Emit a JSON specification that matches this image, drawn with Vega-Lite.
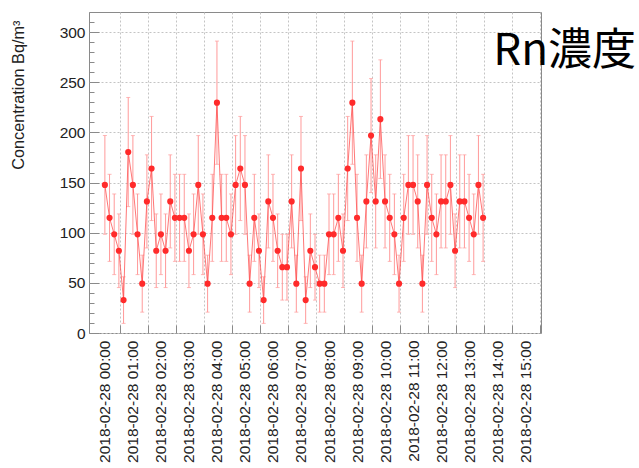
{
  "$schema": "https://vega.github.io/schema/vega-lite/v6.json",
  "width": 452,
  "height": 321,
  "autosize": {"type": "none"},
  "padding": {"left": 89, "top": 12, "right": 98, "bottom": 135},
  "background": "white",
  "title": {
    "text": "Rn濃度",
    "anchor": "end",
    "frame": "group",
    "orient": "top",
    "font": "Noto Sans CJK JP",
    "fontSize": 44,
    "fontWeight": "normal",
    "color": "#000000",
    "baseline": "alphabetic",
    "offset": 0,
    "dx": 95,
    "dy": 97
  },
  "config": {
    "view": {"stroke": "#8a8a8a", "strokeWidth": 1},
    "axis": {
      "labelFont": "Liberation Sans",
      "titleFont": "Liberation Sans",
      "labelColor": "#222222",
      "titleColor": "#222222",
      "tickColor": "#8a8a8a",
      "gridColor": "#c4c4c4",
      "gridDash": [2, 2],
      "gridWidth": 1,
      "domain": false,
      "labelOverlap": false
    },
    "axisX": {
      "title": null, "grid": true, "format": "%Y-%m-%d %H:%M", "labelAngle": -90,
      "labelFontSize": 15.5, "tickSize": -8, "labelPadding": 15, "tickOffset": 15, "labelOffset": -15,
      "labelOverlap": false
    }
  },
  "datasets": {
    "radon": [
      {"t": "2018-02-28T00:00", "c": 147.6, "lo": 98.4, "hi": 196.8},
      {"t": "2018-02-28T00:10", "c": 114.8, "lo": 71.4, "hi": 158.2},
      {"t": "2018-02-28T00:20", "c": 98.4, "lo": 58.2, "hi": 138.6},
      {"t": "2018-02-28T00:30", "c": 82.0, "lo": 45.3, "hi": 118.7},
      {"t": "2018-02-28T00:40", "c": 32.8, "lo": 9.6, "hi": 56.0},
      {"t": "2018-02-28T00:50", "c": 180.4, "lo": 126.0, "hi": 234.8},
      {"t": "2018-02-28T01:00", "c": 147.6, "lo": 98.4, "hi": 196.8},
      {"t": "2018-02-28T01:10", "c": 98.4, "lo": 58.2, "hi": 138.6},
      {"t": "2018-02-28T01:20", "c": 49.2, "lo": 20.8, "hi": 77.6},
      {"t": "2018-02-28T01:30", "c": 131.2, "lo": 84.8, "hi": 177.6},
      {"t": "2018-02-28T01:40", "c": 164.0, "lo": 112.1, "hi": 215.9},
      {"t": "2018-02-28T01:50", "c": 82.0, "lo": 45.3, "hi": 118.7},
      {"t": "2018-02-28T02:00", "c": 98.4, "lo": 58.2, "hi": 138.6},
      {"t": "2018-02-28T02:10", "c": 82.0, "lo": 45.3, "hi": 118.7},
      {"t": "2018-02-28T02:20", "c": 131.2, "lo": 84.8, "hi": 177.6},
      {"t": "2018-02-28T02:30", "c": 114.8, "lo": 71.4, "hi": 158.2},
      {"t": "2018-02-28T02:40", "c": 114.8, "lo": 71.4, "hi": 158.2},
      {"t": "2018-02-28T02:50", "c": 114.8, "lo": 71.4, "hi": 158.2},
      {"t": "2018-02-28T03:00", "c": 82.0, "lo": 45.3, "hi": 118.7},
      {"t": "2018-02-28T03:10", "c": 98.4, "lo": 58.2, "hi": 138.6},
      {"t": "2018-02-28T03:20", "c": 147.6, "lo": 98.4, "hi": 196.8},
      {"t": "2018-02-28T03:30", "c": 98.4, "lo": 58.2, "hi": 138.6},
      {"t": "2018-02-28T03:40", "c": 49.2, "lo": 20.8, "hi": 77.6},
      {"t": "2018-02-28T03:50", "c": 114.8, "lo": 71.4, "hi": 158.2},
      {"t": "2018-02-28T04:00", "c": 229.6, "lo": 168.2, "hi": 291.0},
      {"t": "2018-02-28T04:10", "c": 114.8, "lo": 71.4, "hi": 158.2},
      {"t": "2018-02-28T04:20", "c": 114.8, "lo": 71.4, "hi": 158.2},
      {"t": "2018-02-28T04:30", "c": 98.4, "lo": 58.2, "hi": 138.6},
      {"t": "2018-02-28T04:40", "c": 147.6, "lo": 98.4, "hi": 196.8},
      {"t": "2018-02-28T04:50", "c": 164.0, "lo": 112.1, "hi": 215.9},
      {"t": "2018-02-28T05:00", "c": 147.6, "lo": 98.4, "hi": 196.8},
      {"t": "2018-02-28T05:10", "c": 49.2, "lo": 20.8, "hi": 77.6},
      {"t": "2018-02-28T05:20", "c": 114.8, "lo": 71.4, "hi": 158.2},
      {"t": "2018-02-28T05:30", "c": 82.0, "lo": 45.3, "hi": 118.7},
      {"t": "2018-02-28T05:40", "c": 32.8, "lo": 9.6, "hi": 56.0},
      {"t": "2018-02-28T05:50", "c": 131.2, "lo": 84.8, "hi": 177.6},
      {"t": "2018-02-28T06:00", "c": 114.8, "lo": 71.4, "hi": 158.2},
      {"t": "2018-02-28T06:10", "c": 82.0, "lo": 45.3, "hi": 118.7},
      {"t": "2018-02-28T06:20", "c": 65.6, "lo": 32.8, "hi": 98.4},
      {"t": "2018-02-28T06:30", "c": 65.6, "lo": 32.8, "hi": 98.4},
      {"t": "2018-02-28T06:40", "c": 131.2, "lo": 84.8, "hi": 177.6},
      {"t": "2018-02-28T06:50", "c": 49.2, "lo": 20.8, "hi": 77.6},
      {"t": "2018-02-28T07:00", "c": 164.0, "lo": 112.1, "hi": 215.9},
      {"t": "2018-02-28T07:10", "c": 32.8, "lo": 9.6, "hi": 56.0},
      {"t": "2018-02-28T07:20", "c": 82.0, "lo": 45.3, "hi": 118.7},
      {"t": "2018-02-28T07:30", "c": 65.6, "lo": 32.8, "hi": 98.4},
      {"t": "2018-02-28T07:40", "c": 49.2, "lo": 20.8, "hi": 77.6},
      {"t": "2018-02-28T07:50", "c": 49.2, "lo": 20.8, "hi": 77.6},
      {"t": "2018-02-28T08:00", "c": 98.4, "lo": 58.2, "hi": 138.6},
      {"t": "2018-02-28T08:10", "c": 98.4, "lo": 58.2, "hi": 138.6},
      {"t": "2018-02-28T08:20", "c": 114.8, "lo": 71.4, "hi": 158.2},
      {"t": "2018-02-28T08:30", "c": 82.0, "lo": 45.3, "hi": 118.7},
      {"t": "2018-02-28T08:40", "c": 164.0, "lo": 112.1, "hi": 215.9},
      {"t": "2018-02-28T08:50", "c": 229.6, "lo": 168.2, "hi": 291.0},
      {"t": "2018-02-28T09:00", "c": 114.8, "lo": 71.4, "hi": 158.2},
      {"t": "2018-02-28T09:10", "c": 49.2, "lo": 20.8, "hi": 77.6},
      {"t": "2018-02-28T09:20", "c": 131.2, "lo": 84.8, "hi": 177.6},
      {"t": "2018-02-28T09:30", "c": 196.8, "lo": 140.0, "hi": 253.6},
      {"t": "2018-02-28T09:40", "c": 131.2, "lo": 84.8, "hi": 177.6},
      {"t": "2018-02-28T09:50", "c": 213.2, "lo": 154.1, "hi": 272.3},
      {"t": "2018-02-28T10:00", "c": 131.2, "lo": 84.8, "hi": 177.6},
      {"t": "2018-02-28T10:10", "c": 114.8, "lo": 71.4, "hi": 158.2},
      {"t": "2018-02-28T10:20", "c": 98.4, "lo": 58.2, "hi": 138.6},
      {"t": "2018-02-28T10:30", "c": 49.2, "lo": 20.8, "hi": 77.6},
      {"t": "2018-02-28T10:40", "c": 114.8, "lo": 71.4, "hi": 158.2},
      {"t": "2018-02-28T10:50", "c": 147.6, "lo": 98.4, "hi": 196.8},
      {"t": "2018-02-28T11:00", "c": 147.6, "lo": 98.4, "hi": 196.8},
      {"t": "2018-02-28T11:10", "c": 131.2, "lo": 84.8, "hi": 177.6},
      {"t": "2018-02-28T11:20", "c": 49.2, "lo": 20.8, "hi": 77.6},
      {"t": "2018-02-28T11:30", "c": 147.6, "lo": 98.4, "hi": 196.8},
      {"t": "2018-02-28T11:40", "c": 114.8, "lo": 71.4, "hi": 158.2},
      {"t": "2018-02-28T11:50", "c": 98.4, "lo": 58.2, "hi": 138.6},
      {"t": "2018-02-28T12:00", "c": 131.2, "lo": 84.8, "hi": 177.6},
      {"t": "2018-02-28T12:10", "c": 131.2, "lo": 84.8, "hi": 177.6},
      {"t": "2018-02-28T12:20", "c": 147.6, "lo": 98.4, "hi": 196.8},
      {"t": "2018-02-28T12:30", "c": 82.0, "lo": 45.3, "hi": 118.7},
      {"t": "2018-02-28T12:40", "c": 131.2, "lo": 84.8, "hi": 177.6},
      {"t": "2018-02-28T12:50", "c": 131.2, "lo": 84.8, "hi": 177.6},
      {"t": "2018-02-28T13:00", "c": 114.8, "lo": 71.4, "hi": 158.2},
      {"t": "2018-02-28T13:10", "c": 98.4, "lo": 58.2, "hi": 138.6},
      {"t": "2018-02-28T13:20", "c": 147.6, "lo": 98.4, "hi": 196.8},
      {"t": "2018-02-28T13:30", "c": 114.8, "lo": 71.4, "hi": 158.2}
    ],
    "limit": [{"level": 148}]
  },
  "encoding": {
    "x": {
      "field": "t", "type": "temporal",
      "scale": {"domain": [{"year": 2018, "month": 2, "date": 27, "hours": 23, "minutes": 26}, {"year": 2018, "month": 2, "date": 28, "hours": 15, "minutes": 34}]},
      "axis": {
        "values": [
          {"year": 2018, "month": 2, "date": 28, "hours": 0}, {"year": 2018, "month": 2, "date": 28, "hours": 1},
          {"year": 2018, "month": 2, "date": 28, "hours": 2}, {"year": 2018, "month": 2, "date": 28, "hours": 3},
          {"year": 2018, "month": 2, "date": 28, "hours": 4}, {"year": 2018, "month": 2, "date": 28, "hours": 5},
          {"year": 2018, "month": 2, "date": 28, "hours": 6}, {"year": 2018, "month": 2, "date": 28, "hours": 7},
          {"year": 2018, "month": 2, "date": 28, "hours": 8}, {"year": 2018, "month": 2, "date": 28, "hours": 9},
          {"year": 2018, "month": 2, "date": 28, "hours": 10}, {"year": 2018, "month": 2, "date": 28, "hours": 11},
          {"year": 2018, "month": 2, "date": 28, "hours": 12}, {"year": 2018, "month": 2, "date": 28, "hours": 13},
          {"year": 2018, "month": 2, "date": 28, "hours": 14}, {"year": 2018, "month": 2, "date": 28, "hours": 15}
        ]
      }
    }
  },
  "layer": [
    {
      "data": {"name": "radon"},
      "mark": {"type": "rule", "color": "#ff9a9a", "strokeWidth": 1},
      "encoding": {
        "y": {
          "field": "lo", "type": "quantitative",
          "scale": {"domain": [0, 320], "nice": false, "zero": true},
          "axis": {
            "orient": "left", "title": null, "labels": false, "grid": false, "tickSize": -5,
            "values": [0, 10, 20, 30, 40, 50, 60, 70, 80, 90, 100, 110, 120, 130, 140, 150, 160, 170, 180, 190, 200, 210, 220, 230, 240, 250, 260, 270, 280, 290, 300, 310, 320]
          }
        },
        "y2": {"field": "hi"}
      }
    },
    {
      "data": {"name": "radon"},
      "mark": {"type": "tick", "orient": "horizontal", "color": "#ff9a9a", "size": 4, "thickness": 1},
      "encoding": {
        "y": {"field": "lo", "type": "quantitative", "scale": {"domain": [0, 320], "nice": false}, "axis": null}
      }
    },
    {
      "data": {"name": "radon"},
      "mark": {"type": "tick", "orient": "horizontal", "color": "#ff9a9a", "size": 4, "thickness": 1},
      "encoding": {
        "y": {"field": "hi", "type": "quantitative", "scale": {"domain": [0, 320], "nice": false}, "axis": null}
      }
    },
    {
      "data": {"name": "radon"},
      "mark": {"type": "line", "color": "#ff4a4a", "strokeWidth": 1, "opacity": 0.75},
      "encoding": {
        "y": {"field": "c", "type": "quantitative", "scale": {"domain": [0, 320], "nice": false}, "axis": null}
      }
    },
    {
      "data": {"name": "limit"},
      "mark": {"type": "rule", "color": "#333333", "strokeWidth": 2, "strokeDash": [3, 1], "opacity": 0.85},
      "encoding": {
        "x": {"datum": {"year": 2018, "month": 2, "date": 27, "hours": 23, "minutes": 26}, "type": "temporal"},
        "x2": {"datum": {"year": 2018, "month": 2, "date": 28, "hours": 15, "minutes": 34}},
        "y": {"field": "level", "type": "quantitative", "scale": {"domain": [0, 320], "nice": false}, "axis": null}
      }
    },
    {
      "data": {"name": "radon"},
      "mark": {"type": "point", "filled": true, "size": 38, "color": "#ff2b2b", "opacity": 1},
      "encoding": {
        "y": {
          "field": "c", "type": "quantitative",
          "scale": {"domain": [0, 320], "nice": false},
          "axis": {
            "orient": "left", "title": "Concentration Bq/m³", "titleFontSize": 16.3, "titleFontWeight": "normal",
            "titleAngle": 270, "titleAlign": "right", "titleBaseline": "middle", "titleX": -71, "titleY": 8,
            "values": [0, 50, 100, 150, 200, 250, 300], "grid": true, "tickSize": -10, "labelPadding": 14,
            "labelFontSize": 15.5
          }
        }
      }
    }
  ],
  "resolve": {"axis": {"y": "independent"}}
}
